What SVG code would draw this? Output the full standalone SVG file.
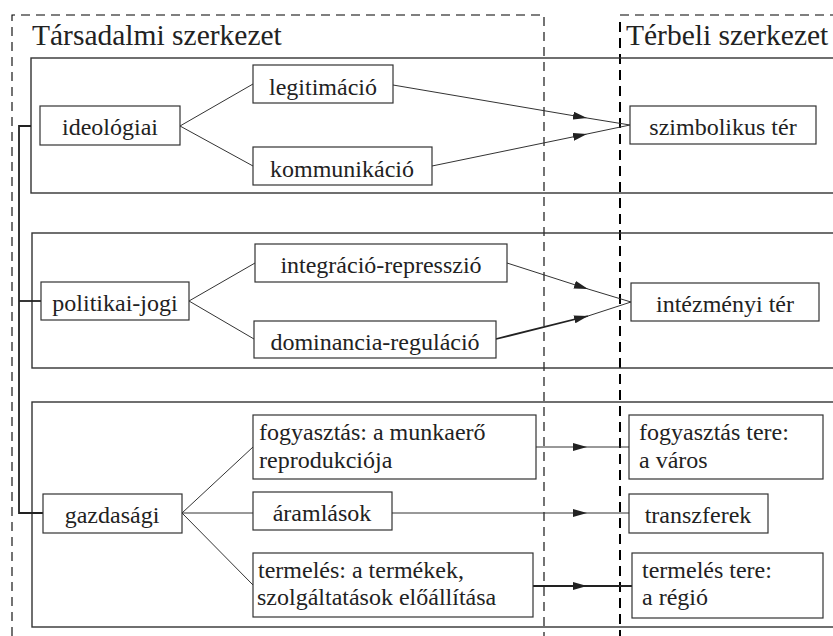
<svg xmlns="http://www.w3.org/2000/svg" width="833" height="636" viewBox="0 0 833 636">
<defs>
<marker id="ah" markerWidth="14" markerHeight="8" refX="14" refY="4" orient="auto" markerUnits="userSpaceOnUse">
<path d="M0,0 L14,4 L0,8 Z" fill="#222"/>
</marker>
<style>
text{font-family:'Liberation Serif','Times New Roman',serif;fill:#222}
.t{font-size:24px}
.h{font-size:29.5px}
.box{fill:#fff;stroke:#333;stroke-width:1.2}
.band{fill:none;stroke:#333;stroke-width:1.4}
.c{fill:none;stroke:#333;stroke-width:1}
.cb{fill:none;stroke:#222;stroke-width:1.8}
.d1{fill:none;stroke:#000;stroke-width:1.1;stroke-dasharray:9,6}
.d2{fill:none;stroke:#000;stroke-width:2;stroke-dasharray:10,6}
</style>
</defs>
<rect width="833" height="636" fill="#fff"/>
<g id="frames">
<path class="d1" d="M12,636 L12,15 L544,15 L544,636"/>
<path class="d1" d="M620,15 L840,15"/>
<path class="d2" d="M620,22 L620,636"/>
<rect class="band" x="31" y="58" width="820" height="135"/>
<rect class="band" x="32" y="233" width="820" height="135" stroke="#555"/>
<rect class="band" x="32" y="402" width="820" height="225" stroke="#555"/>
<text class="h" x="32" y="45">Társadalmi szerkezet</text>
<text class="h" x="626" y="45">Térbeli szerkezet</text>
</g>
<g id="connectors">
<path class="cb" d="M31,126 L19,126 L19,513 L43,513"/>
<path class="cb" d="M19,301 L41,301"/>
<path class="c" d="M253,84 L180,126 L253,166"/>
<path class="c" d="M255,263 L189,301 L254,339"/>
<path class="c" d="M253,447 L182,513 L253,585 M182,513 L253,513"/>
<path class="c" d="M393,85 L587,118" marker-end="url(#ah)"/>
<path class="c" d="M587,118 L630,125"/>
<path class="c" d="M432,166 L587,134" marker-end="url(#ah)"/>
<path class="c" d="M587,134 L630,125"/>
<path class="c" d="M507,263 L588,289" marker-end="url(#ah)"/>
<path class="c" d="M588,289 L631,302"/>
<path class="cb" d="M496,339 L588,316" marker-end="url(#ah)"/>
<path class="c" d="M588,316 L631,302"/>
<path class="c" d="M536,447 L587,447" marker-end="url(#ah)"/>
<path class="c" d="M587,447 L629,447"/>
<path class="c" d="M392,513 L587,513" marker-end="url(#ah)"/>
<path class="c" d="M587,513 L629,513"/>
<path class="cb" d="M533,586 L587,586" marker-end="url(#ah)"/>
<path class="cb" d="M587,586 L632,586"/>
</g>
<g id="nodes">
<g id="ideologiai"><rect class="box" x="40" y="106" width="140" height="39"/><text class="t" x="110" y="135" text-anchor="middle">ideológiai</text></g>
<g id="legitimacio"><rect class="box" x="253" y="65" width="140" height="38"/><text class="t" x="323" y="95" text-anchor="middle">legitimáció</text></g>
<g id="kommunikacio"><rect class="box" x="253" y="147" width="179" height="38"/><text class="t" x="342" y="177" text-anchor="middle">kommunikáció</text></g>
<g id="szimbolikus"><rect class="box" x="630" y="106" width="186" height="38"/><text class="t" x="723" y="135" text-anchor="middle">szimbolikus tér</text></g>
<g id="politikai"><rect class="box" x="41" y="282" width="148" height="38"/><text class="t" x="115" y="311" text-anchor="middle">politikai-jogi</text></g>
<g id="integracio"><rect class="box" x="255" y="244" width="252" height="38"/><text class="t" x="381" y="273" text-anchor="middle">integráció-represszió</text></g>
<g id="dominancia"><rect class="box" x="254" y="321" width="242" height="37"/><text class="t" x="375" y="350" text-anchor="middle">dominancia-reguláció</text></g>
<g id="intezmenyi"><rect class="box" x="631" y="283" width="188" height="38"/><text class="t" x="725" y="312" text-anchor="middle">intézményi tér</text></g>
<g id="gazdasagi"><rect class="box" x="43" y="494" width="139" height="39"/><text class="t" x="112" y="523" text-anchor="middle">gazdasági</text></g>
<g id="fogyasztas"><rect class="box" x="253" y="415" width="283" height="64"/><text class="t" x="259" y="440">fogyasztás: a munkaerő</text><text class="t" x="259" y="468">reprodukciója</text></g>
<g id="aramlasok"><rect class="box" x="253" y="492" width="139" height="38"/><text class="t" x="322" y="521" text-anchor="middle">áramlások</text></g>
<g id="termeles"><rect class="box" x="253" y="553" width="280" height="64"/><text class="t" x="258" y="578">termelés: a termékek,</text><text class="t" x="257" y="605">szolgáltatások előállítása</text></g>
<g id="fogyasztas-tere"><rect class="box" x="629" y="415" width="194" height="64"/><text class="t" x="639" y="440">fogyasztás tere:</text><text class="t" x="639" y="468">a város</text></g>
<g id="transzferek"><rect class="box" x="629" y="494" width="139" height="39"/><text class="t" x="698" y="523" text-anchor="middle">transzferek</text></g>
<g id="termeles-tere"><rect class="box" x="632" y="553" width="191" height="65"/><text class="t" x="642" y="578">termelés tere:</text><text class="t" x="642" y="605">a régió</text></g>
</g>
</svg>
